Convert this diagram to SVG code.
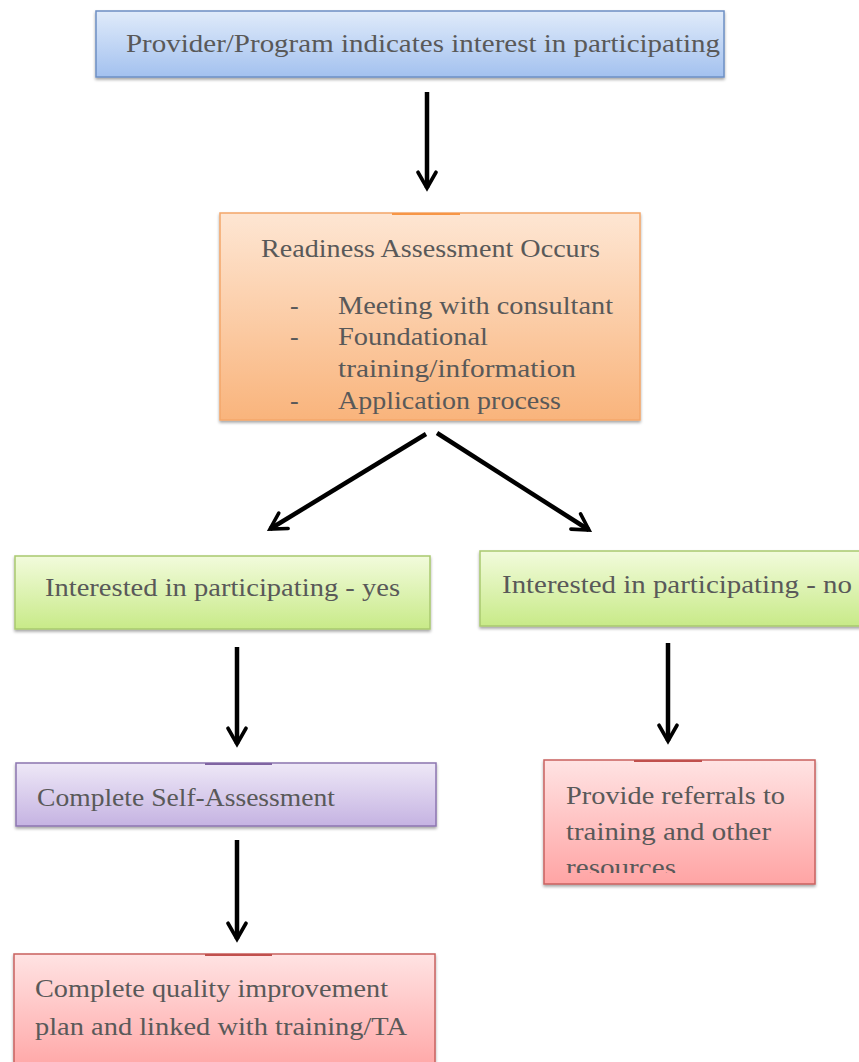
<svg xmlns="http://www.w3.org/2000/svg" width="859" height="1062" viewBox="0 0 859 1062">
<defs>
<linearGradient id="gBlue" x1="0" y1="0" x2="0" y2="1"><stop offset="0" stop-color="#e0ebfa"/><stop offset="1" stop-color="#a3c1ef"/></linearGradient>
<linearGradient id="gOrange" x1="0" y1="0" x2="0" y2="1"><stop offset="0" stop-color="#fee6d3"/><stop offset="1" stop-color="#f9b47c"/></linearGradient>
<linearGradient id="gGreen" x1="0" y1="0" x2="0" y2="1"><stop offset="0" stop-color="#f2fbdc"/><stop offset="1" stop-color="#c8ea88"/></linearGradient>
<linearGradient id="gPurple" x1="0" y1="0" x2="0" y2="1"><stop offset="0" stop-color="#eee8f7"/><stop offset="1" stop-color="#c5b3e2"/></linearGradient>
<linearGradient id="gPink" x1="0" y1="0" x2="0" y2="1"><stop offset="0" stop-color="#ffe3e3"/><stop offset="1" stop-color="#ffa4a4"/></linearGradient>
<filter id="sh" x="-5%" y="-10%" width="110%" height="130%"><feDropShadow dx="0" dy="2" stdDeviation="1.5" flood-color="#000" flood-opacity="0.35"/></filter>
<clipPath id="cOrange"><rect x="220" y="213" width="420" height="203"/></clipPath>
<clipPath id="cPinkR"><rect x="544" y="760" width="271" height="113"/></clipPath>
<marker id="ah" viewBox="0 0 10 10" refX="8" refY="5" markerWidth="5" markerHeight="5" markerUnits="strokeWidth" orient="auto"><path d="M1,1 L8,5 L1,9" fill="none" stroke="#000" stroke-width="1.6" stroke-linecap="round" stroke-linejoin="miter"/></marker>
</defs>
<style>
text{font-family:"Liberation Serif","DejaVu Serif",serif;fill:#595959;font-size:26px}
.box{stroke-width:1.5}
.conn line{stroke:#000;stroke-width:4.5;stroke-linecap:butt;marker-end:url(#ah)}
</style>

<g id="provider">
<rect class="box" x="96" y="11" width="628" height="66" fill="url(#gBlue)" stroke="#6d8fc4" filter="url(#sh)"/>
<text x="126" y="52" textLength="594" lengthAdjust="spacingAndGlyphs">Provider/Program indicates interest in participating</text>
</g>

<g id="readiness">
<rect class="box" x="220" y="213" width="420" height="207" fill="url(#gOrange)" stroke="#f4a76a" filter="url(#sh)"/>
<line x1="392" y1="214" x2="460" y2="214" stroke="#f79646" stroke-width="2"/>
<g clip-path="url(#cOrange)">
<text x="261" y="257" textLength="339" lengthAdjust="spacingAndGlyphs">Readiness Assessment Occurs</text>
<text x="290" y="314">-</text>
<text x="338" y="314" textLength="275" lengthAdjust="spacingAndGlyphs">Meeting with consultant</text>
<text x="290" y="345">-</text>
<text x="338" y="345" textLength="150" lengthAdjust="spacingAndGlyphs">Foundational</text>
<text x="338" y="377" textLength="238" lengthAdjust="spacingAndGlyphs">training/information</text>
<text x="290" y="409">-</text>
<text x="338" y="409" textLength="223" lengthAdjust="spacingAndGlyphs">Application process</text>
</g>
</g>

<g id="yes">
<rect class="box" x="15" y="556" width="415" height="73" fill="url(#gGreen)" stroke="#a9c96f" filter="url(#sh)"/>
<text x="45" y="596" textLength="355" lengthAdjust="spacingAndGlyphs">Interested in participating - yes</text>
</g>

<g id="no">
<rect class="box" x="480" y="551" width="385" height="75" fill="url(#gGreen)" stroke="#a9c96f" filter="url(#sh)"/>
<text x="502" y="593" textLength="350" lengthAdjust="spacingAndGlyphs">Interested in participating - no</text>
</g>

<g id="self">
<rect class="box" x="16" y="763" width="420" height="63" fill="url(#gPurple)" stroke="#8c75b0" filter="url(#sh)"/>
<line x1="205" y1="764" x2="272" y2="764" stroke="#8064a2" stroke-width="2"/>
<text x="37" y="806" textLength="298" lengthAdjust="spacingAndGlyphs">Complete Self-Assessment</text>
</g>

<g id="referrals">
<rect class="box" x="544" y="760" width="271" height="124" fill="url(#gPink)" stroke="#c9625f" filter="url(#sh)"/>
<line x1="634" y1="761" x2="702" y2="761" stroke="#c0504d" stroke-width="2"/>
<g clip-path="url(#cPinkR)">
<text x="566" y="804" textLength="219" lengthAdjust="spacingAndGlyphs">Provide referrals to</text>
<text x="566" y="840" textLength="205" lengthAdjust="spacingAndGlyphs">training and other</text>
<text x="566" y="876" textLength="110" lengthAdjust="spacingAndGlyphs">resources</text>
</g>
</g>

<g id="qip">
<rect class="box" x="14" y="954" width="421" height="120" fill="url(#gPink)" stroke="#c9625f" filter="url(#sh)"/>
<line x1="205" y1="955" x2="272" y2="955" stroke="#c0504d" stroke-width="2"/>
<text x="35" y="997" textLength="353" lengthAdjust="spacingAndGlyphs">Complete quality improvement</text>
<text x="35" y="1035" textLength="372" lengthAdjust="spacingAndGlyphs">plan and linked with training/TA</text>
</g>

<g id="connectors" class="conn">
<line x1="427" y1="92" x2="427" y2="188"/>
<line x1="426" y1="434" x2="270" y2="529"/>
<line x1="437" y1="433" x2="589" y2="530"/>
<line x1="237" y1="647" x2="237" y2="744"/>
<line x1="668" y1="643" x2="668" y2="741"/>
<line x1="237" y1="840" x2="237" y2="939"/>
</g>
</svg>
